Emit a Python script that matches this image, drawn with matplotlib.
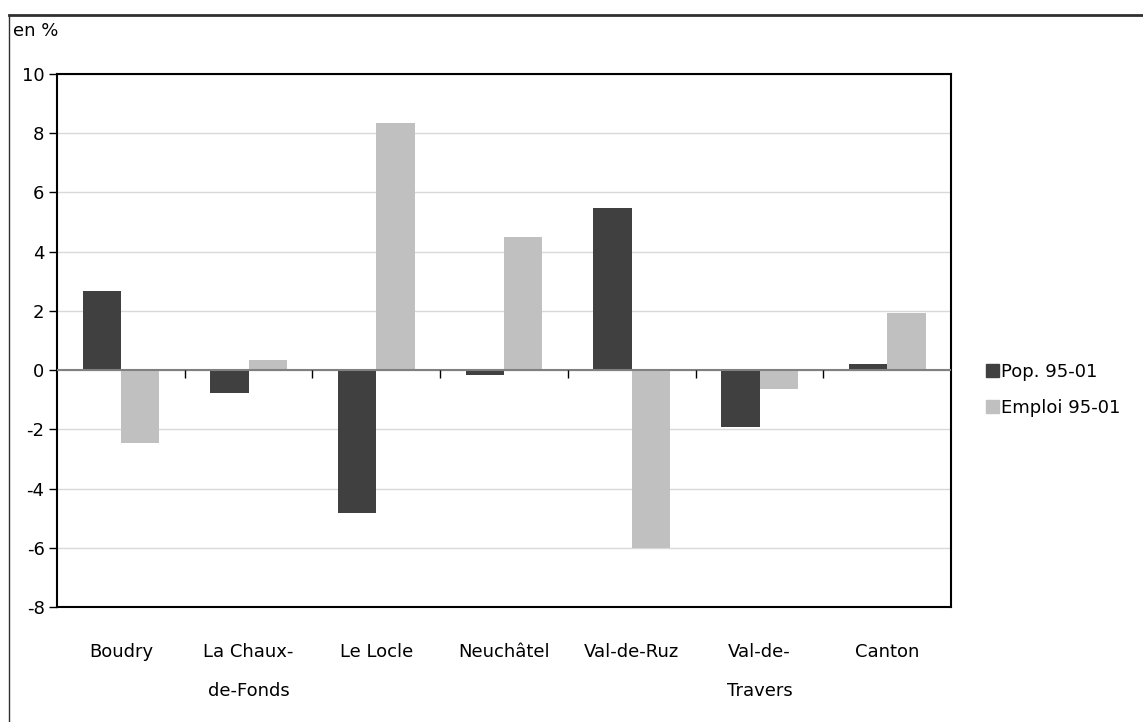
import numpy as np
import matplotlib.pyplot as plt
from matplotlib.lines import Line2D
from matplotlib.patches import Patch

# Variation de la population et de l'emploi par district, 1995-2001
districts = ["Boudry", "La Chaux-\nde-Fonds", "Le Locle", "Neuchâtel",
             "Val-de-Ruz", "Val-de-\nTravers", "Canton"]
pop = [2.68, -0.77, -4.83, -0.17, 5.47, -1.93, 0.19]
emploi = [-2.45, 0.33, 8.35, 4.48, -6.0, -0.64, 1.94]
series_labels = ["Pop. 95-01", "Emploi 95-01"]
yticks = [-8, -6, -4, -2, 0, 2, 4, 6, 8, 10]

plt.rcParams["font.family"] = "DejaVu Sans"
plt.rcParams["font.size"] = 13
plt.rcParams["axes.unicode_minus"] = False

fig = plt.figure(figsize=(11.43, 7.22), dpi=100)
ax = fig.add_axes([0.0499, 0.1593, 0.7822, 0.7382])

x = np.arange(len(districts))
w = 0.3
ax.bar(x - w / 2, pop, w, color="#404040", zorder=3)
ax.bar(x + w / 2, emploi, w, color="#c0c0c0", zorder=3)

ax.set_xlim(-0.5, len(districts) - 0.5)
ax.set_ylim(-8, 10)
ax.set_yticks(yticks)
ax.yaxis.grid(True, color="#d9d9d9", lw=1)
ax.set_axisbelow(True)

# ligne du zéro avec petites graduations entre les districts
ax.axhline(0, color="#808080", lw=1.5, zorder=4)
ax.vlines(x[:-1] + 0.5, -0.27, 0, color="black", lw=1, zorder=4)

ax.set_xticks(x)
ax.set_xticklabels(districts, linespacing=2.5, va="top")
ax.tick_params(axis="x", length=0, pad=26)
ax.tick_params(axis="y", length=6, width=1, direction="out", pad=3)
for s in ax.spines.values():
    s.set_linewidth(1.5)
    s.set_color("black")

handles = [Patch(color="#404040"), Patch(color="#c0c0c0")]
fig.legend(handles, series_labels, loc="center left",
           bbox_to_anchor=(0.863, 0.46), frameon=False,
           handlelength=0.7, handleheight=0.7, handletextpad=0.1,
           labelspacing=1.0, borderpad=0, borderaxespad=0)

fig.text(13 / 1143, 1 - 31 / 722, "en %", va="center", ha="left")

# cadre extérieur
top = 1 - 15 / 722
fig.add_artist(Line2D([9 / 1143, 1], [top, top], color="#303030", lw=2))
fig.add_artist(Line2D([9 / 1143, 9 / 1143], [0, top], color="#303030", lw=1))

fig.savefig("out.png", dpi=100)
